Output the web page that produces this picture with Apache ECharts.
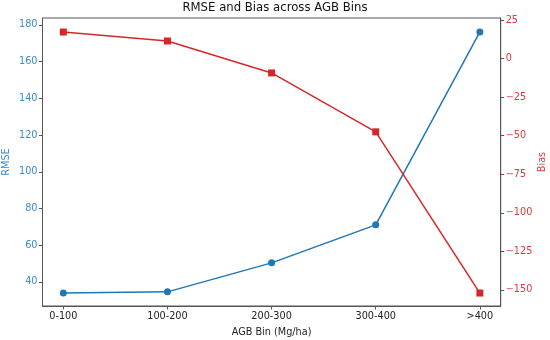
<!DOCTYPE html>
<html><head><meta charset="utf-8">
<script src="https://cdn.jsdelivr.net/npm/echarts@6/dist/echarts.min.js"></script>
<style>html,body{margin:0;padding:0;background:#fff}#c{width:550px;height:340px}</style>
</head><body><div id="c"></div>
<script>
const categories = ['0-100', '100-200', '200-300', '300-400', '>400'];
const rmseValues = [34.0, 34.6, 50.4, 71.1, 176.2];
const biasValues = [17.2, 11.4, -9.3, -47.5, -152.0];
const rmseTicks = [40, 60, 80, 100, 120, 140, 160, 180];
const biasTicks = [25, 0, -25, -50, -75, -100, -125, -150];

const BLUE = '#1f77b4', RED = '#d62728';
const BLUE_T = '#3a8ccc', RED_T = '#e0383a';
const FONT = 'DejaVu Sans';
const FS = 9.7;
const chart = echarts.init(document.getElementById('c'));
const catIdx = categories.map((_, i) => i);
chart.setOption({
  animation: false,
  textStyle: { fontFamily: FONT },
  title: { text: 'RMSE and Bias across AGB Bins', left: 'center', top: 2, padding: 0,
    textStyle: { fontFamily: FONT, fontSize: 11.7, fontWeight: 'normal', color: '#111' } },
  grid: { left: 42.5, right: 49.3, top: 18, bottom: 34, show: true, borderColor: '#555', borderWidth: 1,
    outerBoundsMode: 'none', containLabel: false },
  xAxis: {
    type: 'value', min: -0.2, max: 4.2,
    name: 'AGB Bin (Mg/ha)', nameLocation: 'middle', nameGap: 21, nameMoveOverlap: false,
    nameTextStyle: { fontSize: FS, color: '#222' },
    axisLine: { show: true, onZero: false, lineStyle: { color: '#555' } },
    axisTick: { show: true, length: 3.5, customValues: catIdx, lineStyle: { color: '#555' } },
    axisLabel: { customValues: catIdx, fontSize: FS, color: '#222', margin: 5,
      formatter: v => categories[Math.round(v)] },
    splitLine: { show: false }
  },
  yAxis: [
    { type: 'value', min: 26.9, max: 183.8, position: 'left',
      name: 'RMSE', nameLocation: 'middle', nameGap: 31, nameMoveOverlap: false,
      nameTextStyle: { fontSize: FS, color: BLUE_T },
      axisLine: { show: true, onZero: false, lineStyle: { color: '#555' } },
      axisTick: { show: true, length: 3.5, customValues: rmseTicks, lineStyle: { color: '#555' } },
      axisLabel: { customValues: rmseTicks, fontSize: FS, color: BLUE_T, margin: 5 },
      splitLine: { show: false } },
    { type: 'value', min: -160.4, max: 26.3, position: 'right',
      name: 'Bias', nameLocation: 'middle', nameGap: 37, nameMoveOverlap: false,
      nameTextStyle: { fontSize: FS, color: RED_T },
      axisLine: { show: true, onZero: false, lineStyle: { color: '#555' } },
      axisTick: { show: true, length: 3.5, customValues: biasTicks, lineStyle: { color: '#555' } },
      axisLabel: { customValues: biasTicks, fontSize: FS, color: RED_T, margin: 5,
        formatter: v => String(v).replace('-', '\u2212') },
      splitLine: { show: false } }
  ],
  series: [
    { type: 'line', yAxisIndex: 0, data: rmseValues.map((v, i) => [i, v]),
      symbol: 'circle', symbolSize: 7, lineStyle: { color: BLUE, width: 1.5 },
      itemStyle: { color: BLUE } },
    { type: 'line', yAxisIndex: 1, data: biasValues.map((v, i) => [i, v]),
      symbol: 'rect', symbolSize: 7, lineStyle: { color: RED, width: 1.5 },
      itemStyle: { color: RED } }
  ]
});
</script></body></html>
